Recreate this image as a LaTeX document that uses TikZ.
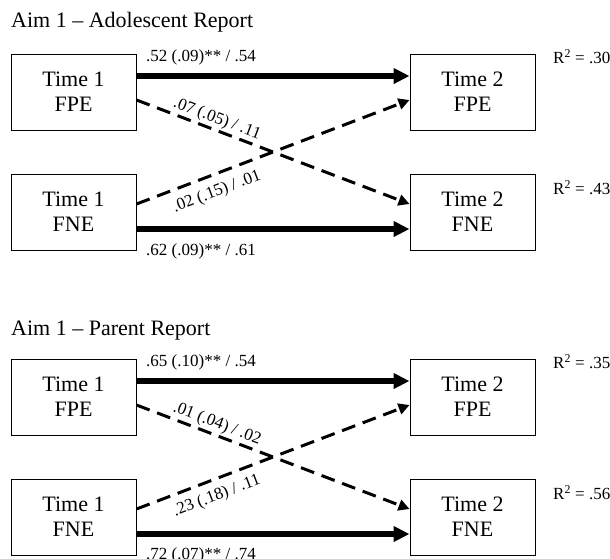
\documentclass[tikz,border=0pt]{standalone}
\usepackage{fontspec}
\setmainfont{Liberation Serif}
\usetikzlibrary{arrows.meta}
\begin{document}
\begin{tikzpicture}[x=1pt,y=-1pt,
  box/.style={draw, line width=1pt, minimum width=125pt, minimum height=76pt, align=center, font=\fontsize{22}{25}\selectfont, inner sep=0pt},
  lab/.style={font=\fontsize{17}{20}\selectfont, inner sep=0pt},
  ttl/.style={font=\fontsize{22}{26}\selectfont, inner sep=0pt, anchor=base west},
  solidarr/.style={line width=6pt, -{Triangle[length=16pt,width=15pt]}},
  dasharr/.style={line width=3pt, dash pattern=on 14pt off 8pt, -{Triangle[length=11pt,width=11pt]}},
]
\useasboundingbox (0,0) rectangle (610,558);

% ---------- Panel 1 ----------
\node[ttl] (t1) at (11,27.5) {Aim 1 – Adolescent Report};
\node[box] (a1) at (73.5,92) {Time 1\\FPE};
\node[box] (b1) at (472.5,92) {Time 2\\FPE};
\node[box] (a2) at (73.5,212) {Time 1\\FNE};
\node[box] (b2) at (472.5,212) {Time 2\\FNE};

\draw[solidarr] ([yshift=16pt]a1.east) -- ([yshift=16pt]b1.west);
\draw[solidarr] ([yshift=-17pt]a2.east) -- ([yshift=-17pt]b2.west);
\draw[dasharr] ([yshift=-8pt]a1.east) -- ([yshift=8pt]b2.west);
\draw[dasharr] ([yshift=8pt]a2.east) -- ([yshift=-8pt]b1.west);

\node[lab, anchor=west] (l1) at (146,57) {.52 (.09)** / .54};
\node[lab, anchor=west] (l2) at (146,251) {.62 (.09)** / .61};
\node[lab, rotate=-20.8] (l3) at (217,119) {.07 (.05) / .11};
\node[lab, rotate=20.8] (l4) at (217,192) {.02 (.15) / .01};
\node[lab, anchor=west] (r1) at (553,57) {R\textsuperscript{2} = .30};
\node[lab, anchor=west] (r2) at (553,188) {R\textsuperscript{2} = .43};

% ---------- Panel 2 ----------
\node[ttl] (t2) at (11,335) {Aim 1 – Parent Report};
\node[box] (c1) at (73.5,397) {Time 1\\FPE};
\node[box] (d1) at (472.5,397) {Time 2\\FPE};
\node[box] (c2) at (73.5,517) {Time 1\\FNE};
\node[box] (d2) at (472.5,517) {Time 2\\FNE};

\draw[solidarr] ([yshift=16pt]c1.east) -- ([yshift=16pt]d1.west);
\draw[solidarr] ([yshift=-17pt]c2.east) -- ([yshift=-17pt]d2.west);
\draw[dasharr] ([yshift=-8pt]c1.east) -- ([yshift=8pt]d2.west);
\draw[dasharr] ([yshift=8pt]c2.east) -- ([yshift=-8pt]d1.west);

\node[lab, anchor=west] (m1) at (146,362) {.65 (.10)** / .54};
\node[lab, anchor=west] (m2) at (146,555) {.72 (.07)** / .74};
\node[lab, rotate=-20.8] (m3) at (217,424) {.01 (.04) / .02};
\node[lab, rotate=20.8] (m4) at (217,496) {.23 (.18) / .11};
\node[lab, anchor=west] (s1) at (553,362) {R\textsuperscript{2} = .35};
\node[lab, anchor=west] (s2) at (553,493) {R\textsuperscript{2} = .56};
\end{tikzpicture}
\end{document}
